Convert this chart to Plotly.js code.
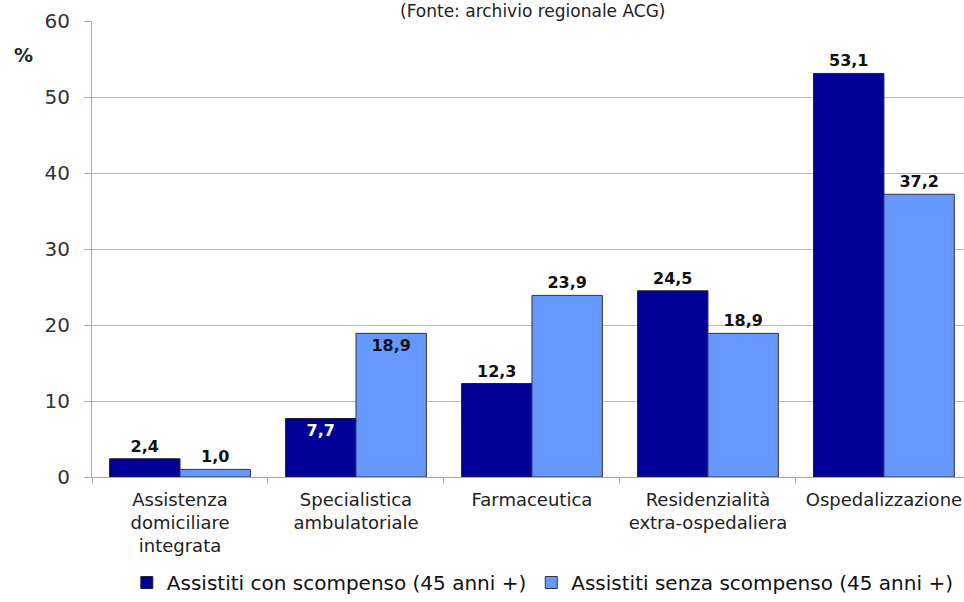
<!DOCTYPE html>
<html>
<head>
<meta charset="utf-8">
<script src="https://cdn.plot.ly/plotly-3.0.1.min.js"></script>
<style>html,body{margin:0;padding:0;background:#fff;}#chart{width:964px;height:602px;}</style>
</head>
<body>
<div id="chart"></div>
<script>
var categories = ["Assistenza<br>domiciliare<br>integrata", "Specialistica<br>ambulatoriale", "Farmaceutica", "Residenzialità<br>extra-ospedaliera", "Ospedalizzazione"];
var seriesNames = ["Assistiti con scompenso (45 anni +)", "Assistiti senza scompenso (45 anni +)"];
var conScompenso = [2.4, 7.7, 12.3, 24.5, 53.1];
var senzaScompenso = [1.0, 18.9, 23.9, 18.9, 37.2];
var yTicks = [0, 10, 20, 30, 40, 50, 60];
var sourceNote = '(Fonte: archivio regionale ACG)';

function fmt(v){ return v.toFixed(1).replace('.', ','); }

var trace1 = {
  type: 'bar', name: seriesNames[0], x: categories, y: conScompenso,
  text: conScompenso.map(fmt),
  textposition: ['outside','inside','outside','outside','outside'],
  insidetextanchor: 'end',
  outsidetextfont: {family: "DejaVu Sans", size: 16, weight: 700, color: '#111'},
  insidetextfont: {family: "DejaVu Sans", size: 16, weight: 700, color: '#ffffff'},
  constraintext: 'none', cliponaxis: false,
  marker: {color: '#000099', line: {color: '#222233', width: 1}},
  hoverinfo: 'skip'
};
var trace2 = {
  type: 'bar', name: seriesNames[1], x: categories, y: senzaScompenso,
  text: senzaScompenso.map(fmt),
  textposition: ['outside','inside','outside','outside','outside'],
  insidetextanchor: 'end',
  outsidetextfont: {family: "DejaVu Sans", size: 16, weight: 700, color: '#111'},
  insidetextfont: {family: "DejaVu Sans", size: 16, weight: 700, color: '#111'},
  constraintext: 'none', cliponaxis: false,
  marker: {color: '#6699ff', line: {color: '#333344', width: 1}},
  hoverinfo: 'skip'
};

var layout = {
  width: 964, height: 602,
  margin: {l: 92, r: 0, t: 21, b: 125},
  paper_bgcolor: '#ffffff', plot_bgcolor: '#ffffff',
  barmode: 'group', bargap: 0.2, bargroupgap: 0,
  showlegend: true,
  legend: {orientation: 'h', x: 0.517, xanchor: 'center', y: -0.2325, yanchor: 'middle',
           font: {family: 'DejaVu Sans', size: 20, color: '#111'}, itemwidth: 30, itemgap: 4, traceorder: 'normal'},
  xaxis: {
    type: 'category', range: [-0.5, 4.455], showgrid: false,
    showline: true, linecolor: '#aaaaaa', linewidth: 1,
    ticks: 'outside', tickson: 'boundaries', ticklen: 6, tickcolor: '#aaaaaa',
    ticklabelstandoff: 6,
    tickfont: {family: 'DejaVu Sans', size: 18, color: '#222'},
    fixedrange: true
  },
  yaxis: {
    range: [0, 60], tickvals: yTicks, ticktext: yTicks.map(String),
    showgrid: true, gridcolor: '#b8b8b8', gridwidth: 1,
    showline: true, linecolor: '#aaaaaa', linewidth: 1,
    ticks: 'outside', ticklen: 7, tickcolor: '#aaaaaa',
    ticklabelstandoff: 10,
    tickfont: {family: 'DejaVu Sans', size: 20, color: '#333'},
    zeroline: false, fixedrange: true
  },
  annotations: [
    {text: sourceNote, xref: 'paper', yref: 'paper', x: 0.505, y: 1.021, xanchor: 'center', yanchor: 'middle', showarrow: false,
     font: {family: 'DejaVu Sans', size: 17, color: '#222'}},
    {text: '<b>%</b>', xref: 'paper', yref: 'paper', x: -0.079, y: 0.925, xanchor: 'center', yanchor: 'middle', showarrow: false,
     font: {family: 'DejaVu Sans', size: 19, color: '#222'}}
  ]
};

Plotly.newPlot('chart', [trace1, trace2], layout, {displayModeBar: false, staticPlot: true});
</script>
</body>
</html>
